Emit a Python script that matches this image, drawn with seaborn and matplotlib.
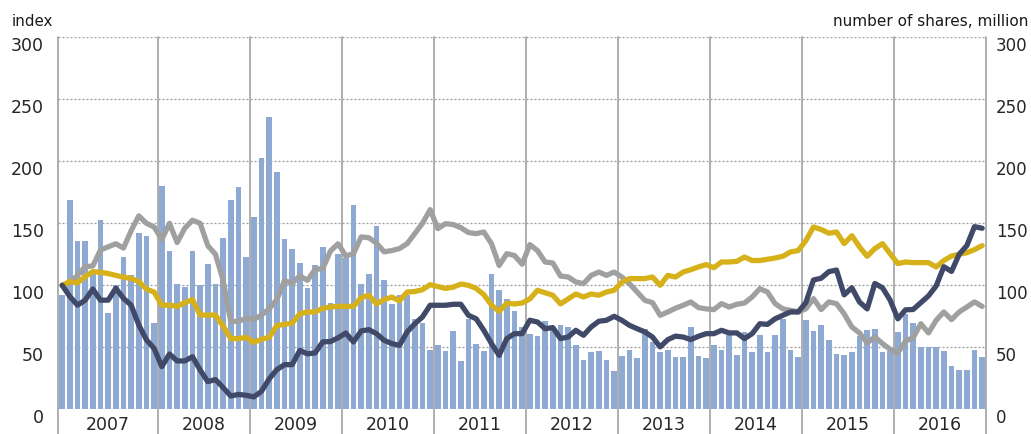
import numpy as np
import pandas as pd
import matplotlib
matplotlib.use("Agg")
import matplotlib.pyplot as plt
import matplotlib.transforms as mtransforms
import seaborn as sns

# ---------------------------------------------------------------------------
# Monthly data, December 2006 (base = 100) through December 2016
# ---------------------------------------------------------------------------
years = [2007, 2008, 2009, 2010, 2011, 2012, 2013, 2014, 2015, 2016]
months_in_block = [13, 12, 12, 12, 12, 12, 12, 12, 12, 12]  # first block carries the Dec-2006 base month

shares_million = [
    92, 169, 136, 136, 112, 153, 78, 100, 123, 108, 142, 140, 70,
    180, 128, 101, 99, 128, 100, 117, 101, 138, 169, 179, 123,
    155, 203, 236, 191, 137, 129, 118, 98, 116, 131, 86, 125,
    122, 165, 101, 109, 148, 104, 85, 92, 92, 73, 70, 48,
    52, 47, 63, 39, 73, 53, 47, 109, 96, 89, 79, 66,
    61, 59, 71, 64, 68, 66, 52, 40, 46, 47, 40, 31,
    43, 48, 41, 65, 54, 46, 48, 42, 42, 66, 43, 41,
    52, 48, 60, 44, 62, 46, 60, 46, 60, 73, 48, 42,
    72, 63, 68, 56, 45, 44, 46, 59, 64, 65, 46, 47,
    62, 77, 70, 50, 50, 50, 47, 35, 32, 32, 48, 42,
]

index_gold = [
    100, 103, 102, 107, 111, 110.5, 109.5, 108, 106.5, 105.5, 103, 97, 94.5,
    84, 84, 83, 86, 88.5, 76, 76, 76, 67, 57, 57, 58,
    54, 56.5, 58, 67.5, 68.5, 69.5, 77, 78.5, 78.5, 81.5, 82.5, 83,
    83, 83, 90, 92, 85, 88.5, 90.5, 87.5, 94.5, 95, 96.5, 100.5,
    99, 97.5, 98.5, 101, 100, 97.5, 92.5, 84, 79, 85.5, 85, 85.7,
    89, 96, 94, 92, 85, 89, 93, 90.6, 93, 92, 94.6, 96,
    102.5, 105.4, 105.4, 105.4, 106.7, 100, 108, 106.7, 110.7, 112.6, 114.8, 116.7,
    114.2, 118.8, 118.8, 119.3, 122.8, 120, 120, 121, 122, 123.4, 126.9, 128,
    136, 147, 145, 142, 143, 133.6, 140, 131, 123.4, 129.6, 133.6, 125.5,
    117.5, 118.8, 118.3, 118.3, 118.3, 114.8, 120, 123.6, 125, 126.3, 128.8, 132,
]

index_grey = [
    100, 102, 108, 115, 115.6, 128.5, 131, 133.5, 130, 144, 156, 150, 147,
    137, 150, 134.5, 146, 152.5, 150, 132, 125, 104, 70.7, 71, 73.4,
    72.5, 76, 81, 88.5, 103.8, 101.5, 107.7, 104, 112.8, 113.5, 127.7, 133.5,
    123.7, 125.5, 139, 138.4, 134, 127, 128, 129.6, 133.6, 141.7, 150, 161,
    145.7, 149.7, 149, 146.5, 142.5, 141.7, 143, 133.6, 116, 125.5, 124, 117,
    132.8, 128, 118.8, 118, 107.5, 106.7, 102.7, 101.3, 108, 110.7, 108, 110.7,
    106.7, 101.3, 94.6, 87.9, 86, 75.8, 78.5, 81.5, 83.9, 86.6, 82, 81,
    80.4, 85.2, 82.5, 84.7, 85.7, 90.6, 97.3, 94.6, 85.2, 81, 79.8, 78.5,
    81, 89.2, 80.4, 86.6, 85.2, 77, 66.4, 61.6, 53.5, 58.3, 53, 48.4,
    45.4, 55, 57.8, 69, 61.6, 71.8, 78.5, 72.3, 78.5, 82.5, 86.6, 83,
]

index_navy = [
    100, 91, 84, 88, 97, 88, 88, 97.6, 89.5, 84, 68, 56, 49,
    34.4, 44.6, 39, 39, 42.4, 31.7, 22.3, 24, 17.5, 10.7, 12, 11.3,
    10, 14.5, 24.5, 32, 36, 36, 47.5, 44.7, 45.5, 54.4, 54.6, 57.7,
    61.5, 54.3, 63.2, 64.2, 61, 55.6, 53, 51.6, 62.4, 69, 74.5, 83.9,
    83.9, 83.9, 84.7, 84.7, 75.8, 73, 63.7, 53, 43.5, 57, 61, 61,
    71.8, 70.4, 65, 65.9, 57, 58.3, 63.7, 59.7, 66.4, 71, 71.8, 75,
    71.8, 67.7, 65, 62.4, 58.3, 50.3, 56.2, 59, 58.3, 56.2, 58.9, 61,
    61, 63.7, 61.6, 61.6, 57, 61, 69, 68.5, 73, 75.8, 78.5, 78.5,
    86, 104.3, 105.7, 111, 112.3, 92.3, 98, 86.5, 81, 101.5, 98, 88,
    73, 80.2, 80.5, 86, 91.5, 99.5, 115, 111.2, 125, 132, 147.3, 146,
]

y_ticks = [0, 50, 100, 150, 200, 250, 300]

# ---------------------------------------------------------------------------
# Styling
# ---------------------------------------------------------------------------
BAR = "#8eaad3"
GOLD = "#d6b11a"
GREY = "#a0a0a0"
NAVY = "#404a68"
RULE = "#a8a8a8"
TICK_FS = 12

sns.set_theme(style="white")
plt.rcParams["font.family"] = ["DejaVu Sans"]
plt.rcParams["text.color"] = "#1a1a1a"

month = np.arange(len(shares_million))
df = pd.DataFrame({
    "month": month,
    "shares": shares_million,
    "gold": index_gold,
    "grey": index_grey,
    "navy": index_navy,
})

W, H = 1031, 434
fig = plt.figure(figsize=(W / 100, H / 100), dpi=100)
left, right, top, bottom = 58.3, 986.0, 37.3, 409.3
ax = fig.add_axes([left / W, 1 - bottom / H, (right - left) / W, (bottom - top) / H])

# trading volume bars
sns.barplot(data=df, x="month", y="shares", color=BAR, saturation=1,
            width=0.76, linewidth=0, ax=ax, zorder=2)

# index lines
for col, colour in [("grey", GREY), ("gold", GOLD), ("navy", NAVY)]:
    sns.lineplot(data=df, x="month", y=col, color=colour, lw=3.8, ax=ax,
                 zorder=3, solid_joinstyle="round", solid_capstyle="round")

n = len(month)
ax.set_xlim(-0.5, n - 0.5)
ax.set_ylim(0, 300)
ax.set_xlabel("")
ax.set_ylabel("")

# year separators (including the frame edges), running down past the axis
edges = np.concatenate([[-0.5], np.cumsum(months_in_block) - 0.5])
for e in edges:
    ax.axvline(e, ymin=-0.07, ymax=1, color=RULE, lw=1.3, clip_on=False, zorder=1)

# year labels centred on each block
centres = (edges[:-1] + edges[1:]) / 2
ax.set_xticks(centres)
ax.set_xticklabels([str(y) for y in years])
ax.tick_params(axis="x", length=0, pad=5.0, labelsize=TICK_FS + 0.5)

# dotted horizontal grid
ax.set_yticks(y_ticks)
ax.yaxis.grid(True, color="#9c9c9c", linestyle=(0, (1.6, 1.6)), lw=0.9)
ax.xaxis.grid(False)
ax.set_axisbelow(True)
for s in ax.spines.values():
    s.set_visible(False)

ax.tick_params(axis="y", length=0, pad=10.5, labelsize=TICK_FS + 0.5)
shift = mtransforms.ScaledTranslation(0, -6.5 / 100, fig.dpi_scale_trans)
for lab in ax.get_yticklabels():
    lab.set_transform(lab.get_transform() + shift)

# right-hand scale (same range)
ax_r = ax.twinx()
ax_r.set_ylim(0, 300)
ax_r.set_yticks(y_ticks)
ax_r.tick_params(axis="y", length=0, pad=7.0, labelsize=TICK_FS)
for s in ax_r.spines.values():
    s.set_visible(False)
ax_r.grid(False)
for lab in ax_r.get_yticklabels():
    lab.set_transform(lab.get_transform() + shift)

# axis captions
fig.text(11.7 / W, 1 - 26 / H, "index", ha="left", va="baseline", fontsize=10.8)
fig.text(1028.5 / W, 1 - 26 / H, "number of shares, million", ha="right",
         va="baseline", fontsize=11)

fig.savefig("out.png", dpi=100)
